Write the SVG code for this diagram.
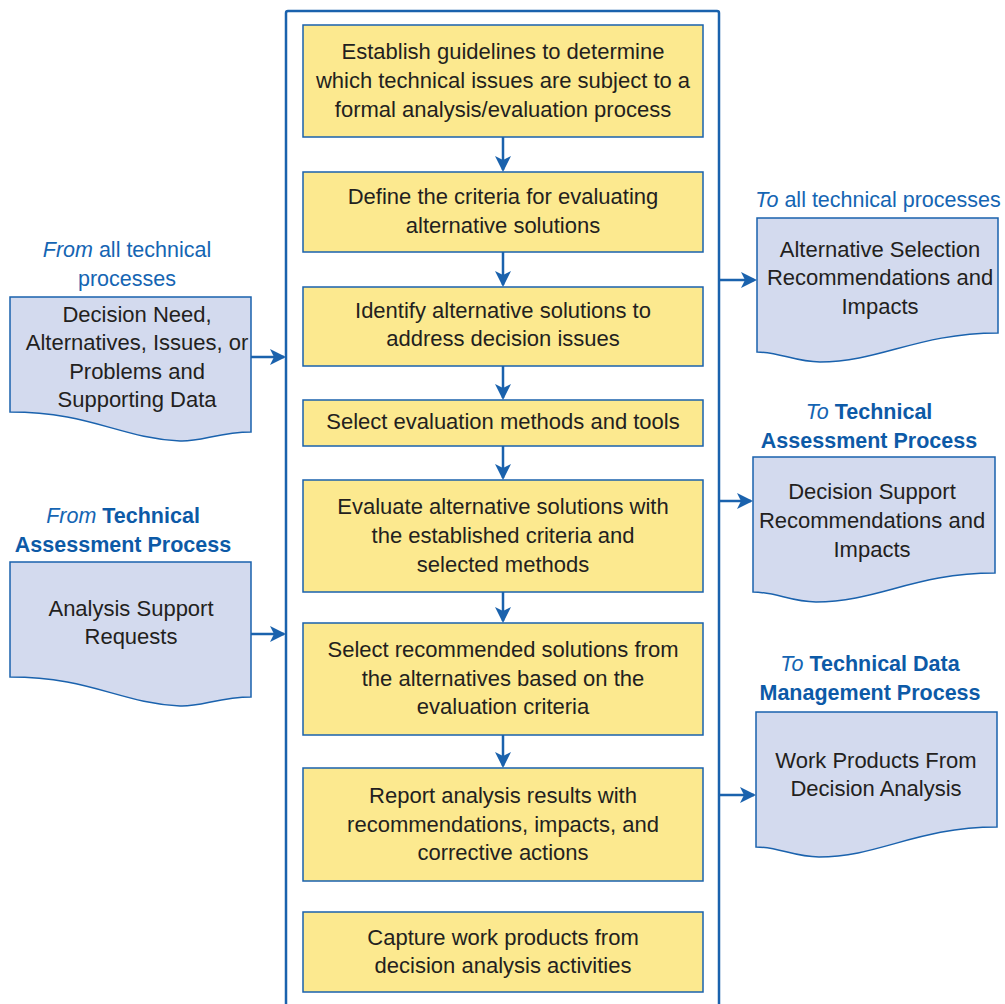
<svg xmlns="http://www.w3.org/2000/svg" width="1005" height="1004" viewBox="0 0 1005 1004">
<style>
.step{fill:#fce98f;stroke:#1a62ad;stroke-width:1.5}
.doc{fill:#d3daee;stroke:#1a62ad;stroke-width:1.5}
.t{font-family:"Liberation Sans",Arial,sans-serif;font-size:22px;fill:#231f20;text-anchor:middle}
.lb{font-family:"Liberation Sans",Arial,sans-serif;font-size:21.5px;fill:#1565b3;text-anchor:middle}
.b{font-weight:bold;fill:#0d5aa7}
.i{font-style:italic}
.c{stroke:#1a62ad;stroke-width:2.5;fill:none}
</style>
<rect width="1005" height="1004" fill="#ffffff"/>
<g id="container">
<rect x="286" y="11" width="433" height="1010" rx="2" fill="none" stroke="#1a62ad" stroke-width="2.5"/>
</g>
<g id="connectors">
<path class="c" d="M503,137 V170"/>
<path class="c" d="M503,252 V285"/>
<path class="c" d="M503,366 V398"/>
<path class="c" d="M503,446 V478"/>
<path class="c" d="M503,592 V621"/>
<path class="c" d="M503,735 V766"/>
<path class="c" d="M251,357 H284"/>
<path class="c" d="M251,634 H284"/>
<path class="c" d="M719,280 H754"/>
<path class="c" d="M719,501 H751"/>
<path class="c" d="M719,795 H754"/>
</g>
<g id="arrowheads" fill="#1a62ad">
<path d="M495,156 L503,172 L511,156 L503,160 z"/>
<path d="M495,271 L503,287 L511,271 L503,275 z"/>
<path d="M495,384 L503,400 L511,384 L503,388 z"/>
<path d="M495,464 L503,480 L511,464 L503,468 z"/>
<path d="M495,607 L503,623 L511,607 L503,611 z"/>
<path d="M495,752 L503,768 L511,752 L503,756 z"/>
<path d="M270,349 L286,357 L270,365 L274,357 z"/>
<path d="M270,626 L286,634 L270,642 L274,634 z"/>
<path d="M741,272 L757,280 L741,288 L745,280 z"/>
<path d="M737,493 L753,501 L737,509 L741,501 z"/>
<path d="M740,787 L756,795 L740,803 L744,795 z"/>
</g>
<g id="step1"><rect class="step" x="303" y="25" width="400" height="112"/>
<text class="t" x="503" y="59">Establish guidelines to determine</text>
<text class="t" x="503" y="88">which technical issues are subject to a</text>
<text class="t" x="503" y="117">formal analysis/evaluation process</text></g>
<g id="step2"><rect class="step" x="303" y="172" width="400" height="80"/>
<text class="t" x="503" y="204">Define the criteria for evaluating</text>
<text class="t" x="503" y="233">alternative solutions</text></g>
<g id="step3"><rect class="step" x="303" y="287" width="400" height="79"/>
<text class="t" x="503" y="318">Identify alternative solutions to</text>
<text class="t" x="503" y="346">address decision issues</text></g>
<g id="step4"><rect class="step" x="303" y="400" width="400" height="46"/>
<text class="t" x="503" y="429">Select evaluation methods and tools</text></g>
<g id="step5"><rect class="step" x="303" y="480" width="400" height="112"/>
<text class="t" x="503" y="514">Evaluate alternative solutions with</text>
<text class="t" x="503" y="543">the established criteria and</text>
<text class="t" x="503" y="572">selected methods</text></g>
<g id="step6"><rect class="step" x="303" y="623" width="400" height="112"/>
<text class="t" x="503" y="657">Select recommended solutions from</text>
<text class="t" x="503" y="686">the alternatives based on the</text>
<text class="t" x="503" y="714">evaluation criteria</text></g>
<g id="step7"><rect class="step" x="303" y="768" width="400" height="113"/>
<text class="t" x="503" y="803">Report analysis results with</text>
<text class="t" x="503" y="832">recommendations, impacts, and</text>
<text class="t" x="503" y="860">corrective actions</text></g>
<g id="step8"><rect class="step" x="303" y="912" width="400" height="80"/>
<text class="t" x="503" y="945">Capture work products from</text>
<text class="t" x="503" y="973">decision analysis activities</text></g>

<g id="in1">
<text class="lb" x="127" y="257"><tspan class="i">From</tspan> all technical</text>
<text class="lb" x="127" y="286">processes</text>
<path class="doc" d="M10,297 H251 V432 C220,432 200,442 180,441 C120,438 90,412 10,412 Z"/>
<text class="t" x="137" y="322">Decision Need,</text>
<text class="t" x="137" y="350">Alternatives, Issues, or</text>
<text class="t" x="137" y="379">Problems and</text>
<text class="t" x="137" y="407">Supporting Data</text>
</g>
<g id="in2">
<text class="lb" x="123" y="523"><tspan class="i">From</tspan> <tspan class="b">Technical</tspan></text>
<text class="lb b" x="123" y="552">Assessment Process</text>
<path class="doc" d="M10,562 H251 V697 C220,697 200,707 180,706 C120,703 90,677 10,677 Z"/>
<text class="t" x="131" y="616">Analysis Support</text>
<text class="t" x="131" y="644">Requests</text>
</g>
<g id="out1">
<text class="lb" x="878" y="207"><tspan class="i">To</tspan> all technical processes</text>
<path class="doc" d="M757,218 H998 V333 C918,333 880,362 820,362 C795,362 780,352 757,352 Z"/>
<text class="t" x="880" y="257">Alternative Selection</text>
<text class="t" x="880" y="285">Recommendations and</text>
<text class="t" x="880" y="314">Impacts</text>
</g>
<g id="out2">
<text class="lb" x="869" y="419"><tspan class="i">To</tspan> <tspan class="b">Technical</tspan></text>
<text class="lb b" x="869" y="448">Assessment Process</text>
<path class="doc" d="M753,457 H995 V573 C915,573 877,602 816,602 C791,602 776,592 753,592 Z"/>
<text class="t" x="872" y="499">Decision Support</text>
<text class="t" x="872" y="528">Recommendations and</text>
<text class="t" x="872" y="557">Impacts</text>
</g>
<g id="out3">
<text class="lb" x="870" y="671"><tspan class="i">To</tspan> <tspan class="b">Technical Data</tspan></text>
<text class="lb b" x="870" y="700">Management Process</text>
<path class="doc" d="M756,712 H997 V827 C917,827 879,857 819,857 C794,857 779,847 756,847 Z"/>
<text class="t" x="876" y="768">Work Products From</text>
<text class="t" x="876" y="796">Decision Analysis</text>
</g>
</svg>
